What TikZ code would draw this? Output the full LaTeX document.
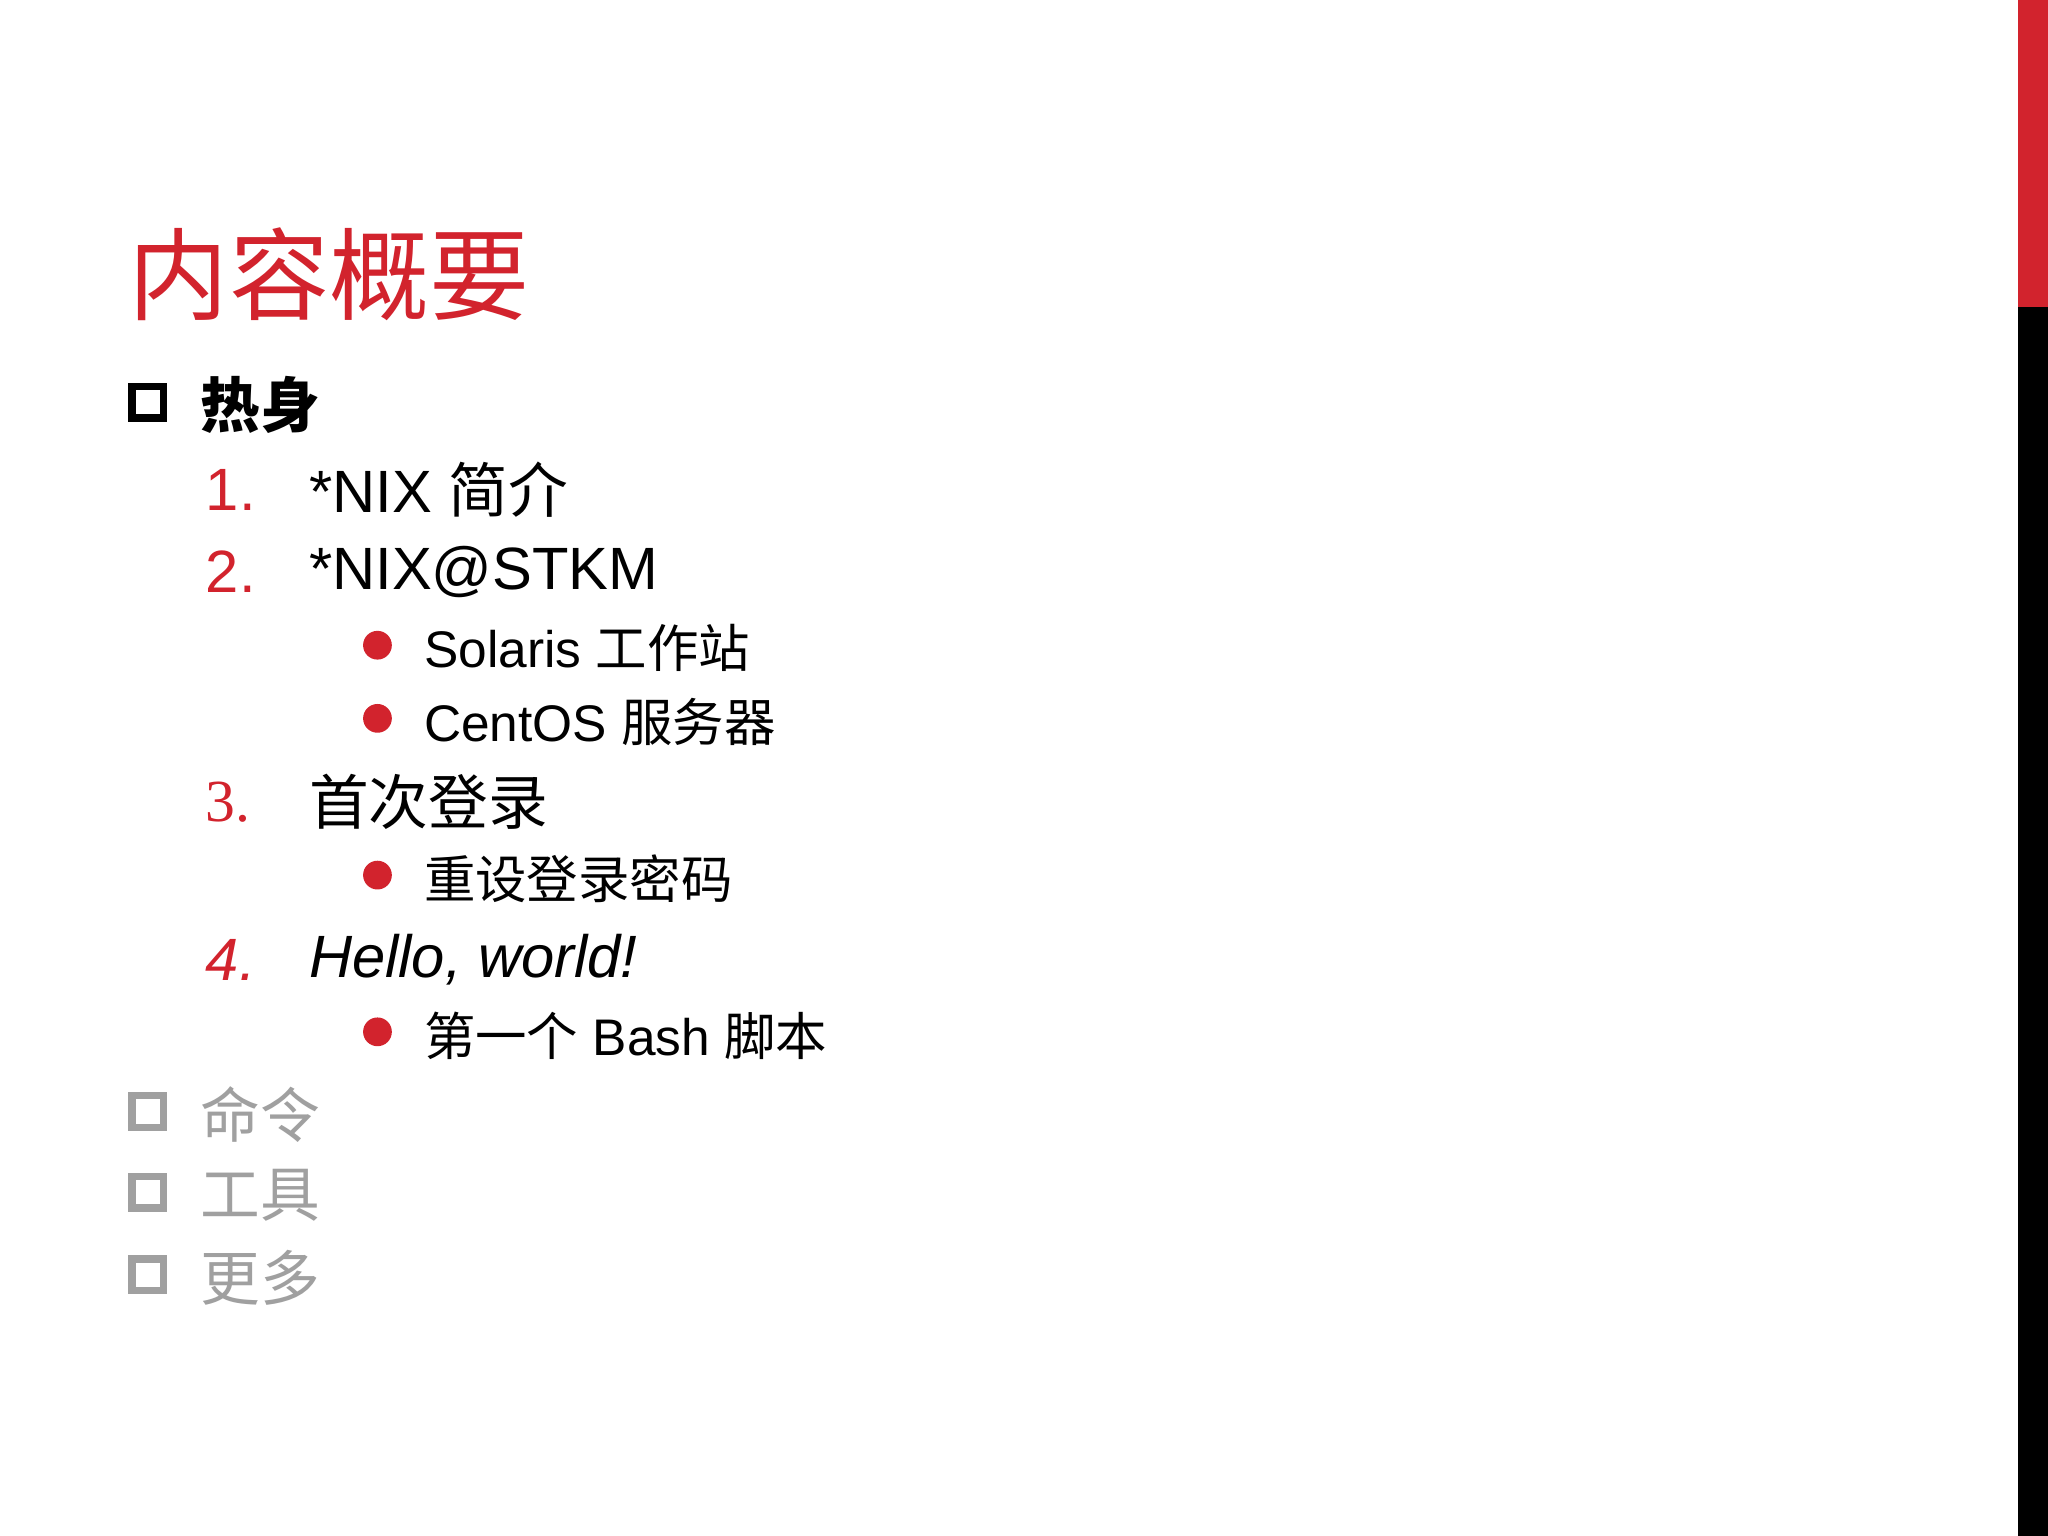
\documentclass[tikz,border=0pt]{standalone}
\usepackage{fontspec}
\setmainfont{Liberation Sans}
\newfontfamily\cjk{Noto Sans CJK SC}
\newfontfamily\serifl{Liberation Serif}
\definecolor{sred}{RGB}{210,35,45}
\definecolor{sgray}{RGB}{160,160,160}
\begin{document}
\begin{tikzpicture}[x=0.01cm,y=-0.01cm,
  lvl/.style={anchor=west,inner sep=0pt,font=\fontsize{13}{15}\selectfont},
  sub/.style={anchor=west,inner sep=0pt,font=\fontsize{11.2}{13}\selectfont},
  num/.style={anchor=west,inner sep=0pt,text=sred,font=\fontsize{13}{15}\selectfont},
  sq/.style={draw,line width=1.6pt,minimum size=0.24cm,inner sep=0pt},
  dot/.style={circle,fill=sred,minimum size=0.22cm,inner sep=0pt}]
\fill[white] (0,0) rectangle (1568,1176);
\fill[sred] (1545,0) rectangle (1568,235);
\fill[black] (1545,235) rectangle (1568,1176);
\node[anchor=west,inner sep=0pt,text=sred,font=\cjk\fontsize{21.8}{24}\selectfont] (title) at (98,210) {内容概要};
\node[sq] (s1) at (113,308) {};
\node[lvl,font=\cjk\bfseries\fontsize{13}{15}\selectfont] (t1) at (153,310) {热身};
\node[num] (n1) at (157,375) {1.};
\node[lvl] (i1) at (236,375) {*NIX {\cjk 简介}};
\node[num] (n2) at (157,438) {2.};
\node[lvl] (i2) at (236,438) {*NIX@STKM};
\node[dot] (d1) at (289,494) {};
\node[sub] (i21) at (324,496) {Solaris {\cjk 工作站}};
\node[dot] (d2) at (289,550) {};
\node[sub] (i22) at (324,553) {CentOS {\cjk 服务器}};
\node[num,font=\serifl\fontsize{13}{15}\selectfont] (n3) at (157,614) {3.};
\node[lvl,font=\cjk\fontsize{13}{15}\selectfont] (i3) at (236,614) {首次登录};
\node[dot] (d3) at (289,670) {};
\node[sub,font=\cjk\fontsize{11.2}{13}\selectfont] (i31) at (324,673) {重设登录密码};
\node[num,font=\itshape\fontsize{13}{15}\selectfont] (n4) at (157,735) {4.};
\node[lvl,font=\itshape\fontsize{13}{15}\selectfont] (i4) at (236,735) {Hello, world!};
\node[dot] (d4) at (289,790) {};
\node[sub] (i41) at (324,793) {{\cjk 第一个} Bash {\cjk 脚本}};
\node[sq,draw=sgray] (s2) at (113,851) {};
\node[lvl,text=sgray,font=\cjk\fontsize{13}{15}\selectfont] (t2) at (153,853) {命令};
\node[sq,draw=sgray] (s3) at (113,913) {};
\node[lvl,text=sgray,font=\cjk\fontsize{13}{15}\selectfont] (t3) at (153,915) {工具};
\node[sq,draw=sgray] (s4) at (113,976) {};
\node[lvl,text=sgray,font=\cjk\fontsize{13}{15}\selectfont] (t4) at (153,978) {更多};
\end{tikzpicture}
\end{document}
